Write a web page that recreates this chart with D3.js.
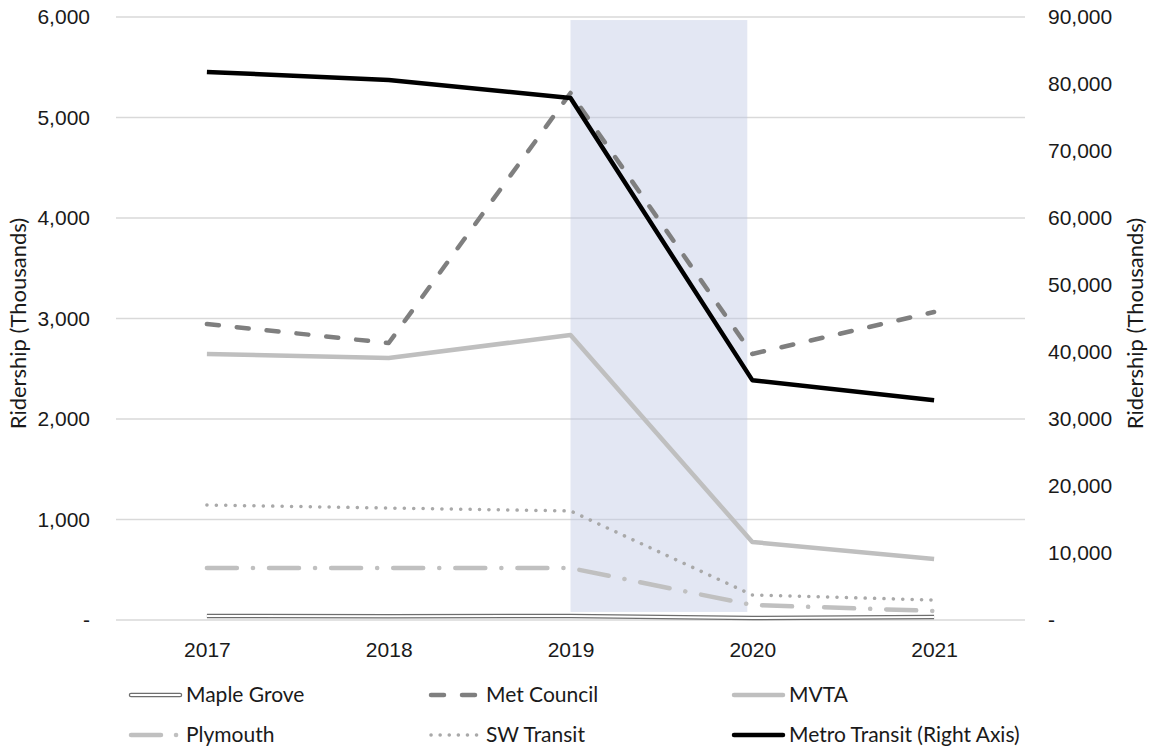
<!DOCTYPE html>
<html>
<head>
<meta charset="utf-8">
<script src="https://cdn.jsdelivr.net/npm/d3@7"></script>
<style>
  body { margin: 0; background: #fff; }
  svg { display: block; font-family: Lato, "Open Sans", sans-serif; }
  .tick text { fill: #1a1a1a; font-size: 21px; }
</style>
</head>
<body>
<svg id="chart" width="1151" height="748"></svg>
<script>
const years = ["2017", "2018", "2019", "2020", "2021"];
const mapleGrove = [40, 38, 40, 20, 30];
const metCouncil = [2945, 2756, 5244, 2647, 3065];
const mvta = [2647, 2607, 2836, 776, 607];
const plymouth = [517, 517, 517, 149, 90];
const swTransit = [1144, 1114, 1085, 249, 199];
const metroTransit = [81800, 80600, 77900, 35800, 32800];
const leftTicks = [0, 1000, 2000, 3000, 4000, 5000, 6000];
const rightTicks = [0, 10000, 20000, 30000, 40000, 50000, 60000, 70000, 80000, 90000];
const shadedYears = ["2019", "2020"];

const svg = d3.select("#chart");
const plotLeft = 116, plotRight = 1025, plotTop = 17, plotBottom = 620;

const x = d3.scalePoint().domain(years).range([plotLeft, plotRight]).padding(0.5);
const yLeft = d3.scaleLinear().domain([0, 6000]).range([plotBottom, plotTop]);
const yRight = d3.scaleLinear().domain([0, 90000]).range([plotBottom, plotTop]);
const fmt = d => d === 0 ? "-" : d3.format(",")(d);

// gridlines
svg.append("g")
  .selectAll("line")
  .data(leftTicks)
  .join("line")
  .attr("x1", plotLeft).attr("x2", plotRight)
  .attr("y1", d => yLeft(d)).attr("y2", d => yLeft(d))
  .attr("stroke", "#d9d9d9").attr("stroke-width", 1.3);

// shaded band for 2019-2020
svg.append("rect")
  .attr("x", x(shadedYears[0]))
  .attr("width", x(shadedYears[1]) - x(shadedYears[0]) - 5)
  .attr("y", yLeft(5970))
  .attr("height", yLeft(80) - yLeft(5970))
  .attr("fill", "#bcc6e2")
  .attr("opacity", 0.42);

// left axis
const axL = svg.append("g")
  .attr("transform", `translate(${plotLeft},0)`)
  .call(d3.axisLeft(yLeft).tickValues(leftTicks).tickFormat(fmt).tickSize(0).tickPadding(26));
axL.select(".domain").remove();

// right axis
const axR = svg.append("g")
  .attr("transform", `translate(${plotRight},0)`)
  .call(d3.axisRight(yRight).tickValues(rightTicks).tickFormat(fmt).tickSize(0).tickPadding(23));
axR.select(".domain").remove();

// bottom axis
const axB = svg.append("g")
  .attr("transform", `translate(0,${plotBottom})`)
  .call(d3.axisBottom(x).tickSize(0).tickPadding(22));
axB.select(".domain").remove();

svg.append("text")
  .attr("transform", `translate(18,${(plotTop + plotBottom) / 2 + 5}) rotate(-90)`)
  .attr("text-anchor", "middle").attr("dy", "0.35em")
  .attr("font-size", 22).attr("fill", "#1a1a1a")
  .text("Ridership (Thousands)");

svg.append("text")
  .attr("transform", `translate(1135,${(plotTop + plotBottom) / 2 + 5}) rotate(-90)`)
  .attr("text-anchor", "middle").attr("dy", "0.35em")
  .attr("font-size", 22).attr("fill", "#1a1a1a")
  .text("Ridership (Thousands)");

const line = scale => d3.line().x((d, i) => x(years[i])).y(d => scale(d));

const series = [
  { name: "Maple Grove", values: mapleGrove, scale: yLeft, styles: [
      { stroke: "#6e6e6e", width: 4.5 }, { stroke: "#ffffff", width: 2 }] },
  { name: "Met Council", values: metCouncil, scale: yLeft, styles: [
      { stroke: "#7f7f7f", width: 4.5, dash: "12 18", legendDash: "13 18", cap: "round" }] },
  { name: "MVTA", values: mvta, scale: yLeft, styles: [
      { stroke: "#bfbfbf", width: 4.5 }] },
  { name: "Plymouth", values: plymouth, scale: yLeft, styles: [
      { stroke: "#c0c0c0", width: 4.5, dash: "30 16 0.1 16", legendDash: "30 15 0.1 15", cap: "round" }] },
  { name: "SW Transit", values: swTransit, scale: yLeft, styles: [
      { stroke: "#a9a9a9", width: 3.5, dash: "0.1 9.3", legendDash: "0.1 9", cap: "round" }] },
  { name: "Metro Transit (Right Axis)", values: metroTransit, scale: yRight, styles: [
      { stroke: "#000000", width: 4.5 }] }
];

const lines = svg.append("g");
series.forEach(s => {
  s.styles.forEach(st => {
    lines.append("path")
      .datum(s.values)
      .attr("d", line(s.scale))
      .attr("fill", "none")
      .attr("stroke", st.stroke)
      .attr("stroke-width", st.width)
      .attr("stroke-dasharray", st.dash || null)
      .attr("stroke-linecap", st.cap || "butt")
      .attr("stroke-linejoin", "round");
  });
});

// legend
const legendPos = [
  [131, 695], [431, 695], [734, 695],
  [131, 735], [431, 735], [734, 735]
];
const legend = svg.append("g");
series.forEach((s, i) => {
  const [lx, ly] = legendPos[i];
  const g = legend.append("g").attr("transform", `translate(${lx},${ly})`);
  s.styles.forEach(st => {
    g.append("line")
      .attr("x1", 0).attr("x2", 49).attr("y1", 0).attr("y2", 0)
      .attr("stroke", st.stroke)
      .attr("stroke-width", st.width)
      .attr("stroke-dasharray", st.legendDash || null)
      .attr("stroke-linecap", "round");
  });
  g.append("text")
    .attr("x", 55).attr("dy", "0.35em")
    .attr("font-size", 21).attr("fill", "#1a1a1a")
    .text(s.name);
});
</script>
</body>
</html>
